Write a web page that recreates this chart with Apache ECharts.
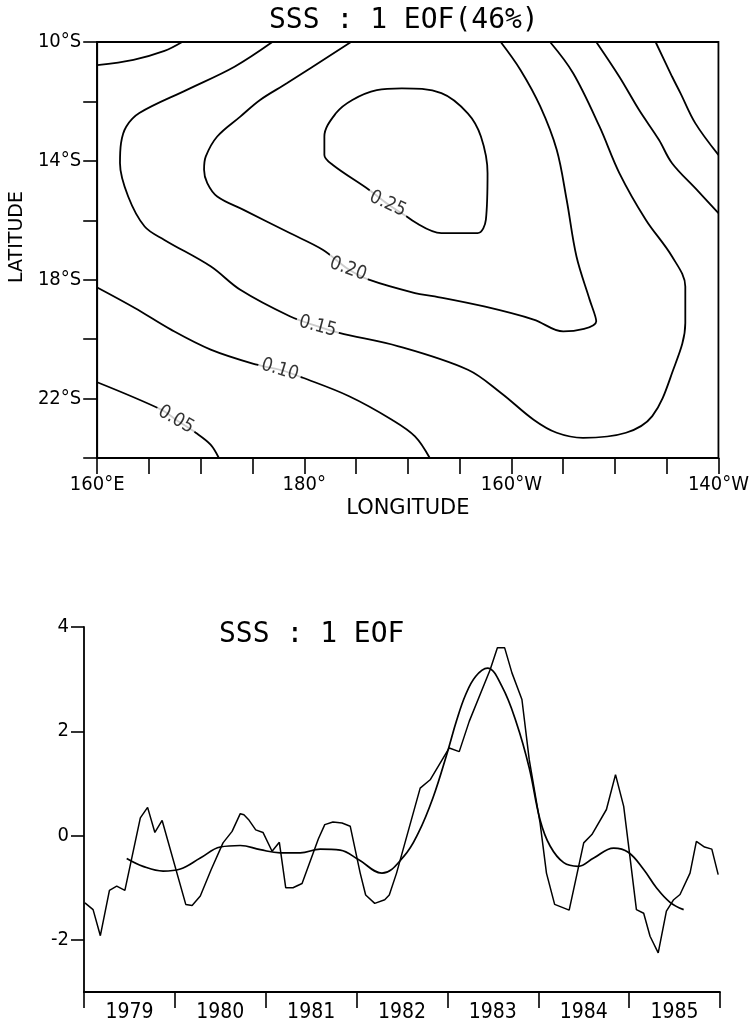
<!DOCTYPE html>
<html>
<head>
<meta charset="utf-8">
<script src="https://cdn.jsdelivr.net/npm/echarts@6/dist/echarts.min.js"></script>
<style>
html,body{margin:0;padding:0;background:#fff;}
#c{width:752px;height:1028px;}
</style>
</head>
<body>
<div id="c"></div>
<script>
// ---------- Top panel: spatial pattern (contours) ----------
const lonTicks = [160,165,170,175,180,185,190,195,200,205,210,215,220];
const lonLabelValues = [160,180,200,220];
const lonLabelText = ['160°E','180°','160°W','140°W'];
const latTicks = [-24,-22,-20,-18,-16,-14,-12,-10];
const latLabelValues = [-22,-18,-14,-10];
const latLabelText = ['22°S','18°S','14°S','10°S'];

// contour lines as [longitude (°E, 0-360), latitude]
const contour005West = [[160,-21.45],[166.18,-22.37],[167.6,-22.71],[169.52,-23.15],[170.95,-23.55],[171.75,-24]];
const contour005East = [[213.93,-10],[215.53,-11.17],[216.33,-11.72],[217.76,-12.73],[220,-13.8]];
const contour010Corner = [[160,-10.78],[163.5,-10.6],[166.5,-10.3],[168.2,-10]];
const contour010South = [[160,-18.26],[163.63,-18.95],[167.13,-19.68],[170.96,-20.35],[175.41,-20.86],[177.64,-21.03],[179.87,-21.3],[184.33,-21.92],[188.46,-22.71],[190.69,-23.27],[192.12,-24]];
const contour010East = [[208.2,-10],[210.43,-11.17],[212.34,-12.29],[214.25,-13.29],[215.52,-14.08],[217.9,-14.97],[220,-15.76]];
const contour015 = [[176.91,-10],[173.26,-10.83],[168.66,-11.61],[164.07,-12.39],[162.8,-12.85],[162.3,-13.4],[162.2,-14.08],[162.99,-15.2],[164.58,-16.21],[166.49,-16.66],[170.95,-17.55],[173.82,-18.34],[178.6,-19.23],[181.3,-19.57],[183.37,-19.79],[189.1,-20.24],[195.8,-21.03],[199,-21.81],[202.15,-22.71],[204.38,-23.15],[206.92,-23.32],[211.07,-23.15],[213.61,-22.59],[215.52,-21.14],[216.8,-19.46],[216.8,-18.23],[215.52,-17.22],[212.98,-15.98],[210.43,-14.41],[208.52,-12.85],[205.97,-11.05],[203.74,-10]];
const contour020 = [[184.51,-10],[178.31,-11.39],[175.73,-11.95],[173.82,-12.51],[171.59,-13.18],[170.48,-13.86],[170.32,-14.3],[170.63,-14.75],[171.59,-15.2],[174.14,-15.65],[178.6,-16.43],[181.78,-16.99],[184.23,-17.64],[186.24,-18.0],[190.69,-18.45],[192.6,-18.56],[197.37,-18.9],[202.15,-19.34],[205.01,-19.74],[208.2,-19.4],[207.56,-18.67],[206.29,-17.22],[205.34,-15.31],[204.38,-13.63],[202.79,-12.17],[200.88,-10.94],[198.97,-10]];
const contour025 = [[189.89,-15.87],[193.24,-16.43],[196.74,-16.43],[197.54,-15.98],[197.7,-14.41],[197.06,-13.18],[195.79,-12.4],[193.24,-11.72],[189.42,-11.56],[187.0,-11.62],[184.64,-11.95],[183.05,-12.4],[181.94,-13.18],[181.94,-13.8],[182.73,-14.13],[186.24,-14.97],[188.05,-15.45],[189.89,-15.87]];

const contourLabelText = ['0.05','0.10','0.15','0.20','0.25'];
const contourLabelPos = [[167.6,-22.71],[177.64,-21.03],[181.3,-19.57],[184.23,-17.64],[188.05,-15.45]];
const contourLabelAngle = [-30,-17,-15,-20,-25];

// ---------- Bottom panel: time series ----------
const yearTicks = [1979,1980,1981,1982,1983,1984,1985,1986];
const yearLabelValues = [1979.5,1980.5,1981.5,1982.5,1983.5,1984.5,1985.5];
const ampTicks = [-2,0,2,4];

const rawSeries = [[1979.01,-1.29],[1979.1,-1.42],[1979.18,-1.92],[1979.28,-1.05],[1979.36,-0.97],[1979.45,-1.05],[1979.62,0.34],[1979.7,0.54],[1979.78,0.06],[1979.86,0.29],[1980.12,-1.32],[1980.19,-1.34],[1980.28,-1.16],[1980.4,-0.65],[1980.53,-0.14],[1980.63,0.08],[1980.72,0.42],[1980.76,0.40],[1980.81,0.31],[1980.89,0.11],[1980.97,0.06],[1981.07,-0.3],[1981.15,-0.13],[1981.22,-1.0],[1981.3,-1.0],[1981.4,-0.92],[1981.58,-0.06],[1981.65,0.21],[1981.74,0.26],[1981.84,0.24],[1981.93,0.18],[1982.04,-0.72],[1982.1,-1.14],[1982.2,-1.3],[1982.31,-1.23],[1982.36,-1.14],[1982.44,-0.72],[1982.7,0.91],[1982.81,1.07],[1983.02,1.68],[1983.13,1.61],[1983.24,2.19],[1983.47,3.18],[1983.55,3.6],[1983.63,3.6],[1983.71,3.12],[1983.82,2.61],[1983.9,1.46],[1984.02,0.24],[1984.09,-0.72],[1984.18,-1.32],[1984.34,-1.43],[1984.5,-0.14],[1984.59,0.02],[1984.75,0.5],[1984.85,1.17],[1984.94,0.56],[1984.99,-0.14],[1985.08,-1.42],[1985.16,-1.49],[1985.23,-1.93],[1985.32,-2.25],[1985.41,-1.45],[1985.49,-1.23],[1985.56,-1.13],[1985.67,-0.72],[1985.74,-0.11],[1985.83,-0.22],[1985.91,-0.26],[1985.98,-0.75]];
const smoothSeries = [[1979.47,-0.44],[1979.65,-0.59],[1979.87,-0.68],[1980.06,-0.64],[1980.28,-0.43],[1980.5,-0.22],[1980.72,-0.19],[1980.94,-0.27],[1981.16,-0.33],[1981.38,-0.33],[1981.6,-0.26],[1981.82,-0.28],[1982.02,-0.46],[1982.28,-0.72],[1982.52,-0.4],[1982.68,0.05],[1982.84,0.72],[1983.0,1.6],[1983.1,2.2],[1983.2,2.7],[1983.31,3.05],[1983.44,3.21],[1983.6,2.86],[1983.76,2.16],[1983.9,1.3],[1984.02,0.3],[1984.13,-0.2],[1984.28,-0.52],[1984.44,-0.59],[1984.61,-0.43],[1984.83,-0.24],[1984.99,-0.32],[1985.16,-0.65],[1985.3,-1.0],[1985.45,-1.28],[1985.6,-1.42]];

// ---------- styling ----------
const INK = '#000';
const COND = '"DejaVu Sans Condensed","DejaVu Sans",sans-serif';
const SANS = '"DejaVu Sans",sans-serif';
const MONO = '"DejaVu Sans Mono",monospace';

function contourLine(data){
  return {type:'line', xAxisIndex:0, yAxisIndex:0, data:data, smooth:0.35,
    symbol:'none', silent:true, z:2, lineStyle:{color:INK, width:1.8}};
}

const chart = echarts.init(document.getElementById('c'), null, {renderer:'canvas'});
chart.setOption({
  animation:false,
  backgroundColor:'#fff',
  title:[
    {text:'SSS : 1 EOF(46%)', left:264, top:2, textStyle:{fontFamily:MONO, fontSize:28, fontWeight:'normal', color:INK}},
    {text:'SSS : 1 EOF', left:214, top:616, textStyle:{fontFamily:MONO, fontSize:28, fontWeight:'normal', color:INK}}
  ],
  grid:[
    {left:92, top:42, width:628, height:416, show:true, borderColor:INK, borderWidth:1.8, backgroundColor:'transparent'},
    {left:84, top:627, width:636, height:365}
  ],
  xAxis:[
    {type:'value', gridIndex:0, min:160, max:220, interval:5,
     axisLine:{show:true, onZero:false, lineStyle:{color:INK, width:1.8}},
     axisTick:{show:true, customValues:lonTicks, length:16, lineStyle:{color:INK, width:1.6}},
     axisLabel:{customValues:lonLabelValues, margin:17, fontFamily:COND, fontSize:20, color:INK,
       formatter:function(v){ const i = lonLabelValues.indexOf(v); return i<0 ? '' : lonLabelText[i]; }},
     splitLine:{show:false},
     name:'LONGITUDE', nameLocation:'middle', nameGap:40,
     nameTextStyle:{fontFamily:SANS, fontSize:21, color:INK}},
    {type:'value', gridIndex:1, min:1979, max:1986, interval:1,
     axisLine:{show:true, onZero:false, lineStyle:{color:INK, width:1.8}},
     axisTick:{show:true, customValues:yearTicks, length:16, lineStyle:{color:INK, width:1.6}},
     axisLabel:{customValues:yearLabelValues, margin:10, fontFamily:COND, fontSize:21, color:INK,
       formatter:function(v){ return String(Math.floor(v)); }},
     splitLine:{show:false}}
  ],
  yAxis:[
    {type:'value', gridIndex:0, min:-24, max:-10, interval:2,
     axisLine:{show:true, onZero:false, lineStyle:{color:INK, width:1.8}},
     axisTick:{show:true, customValues:latTicks, length:14, lineStyle:{color:INK, width:1.6}},
     axisLabel:{customValues:latLabelValues, margin:16, fontFamily:COND, fontSize:20, color:INK,
       formatter:function(v){ const i = latLabelValues.indexOf(v); return i<0 ? '' : latLabelText[i]; }},
     splitLine:{show:false},
     name:'LATITUDE', nameLocation:'middle', nameGap:62, nameRotate:90,
     nameTextStyle:{fontFamily:SANS, fontSize:19, color:INK, padding:[0,0,0,26]}},
    {type:'value', gridIndex:1, min:-3, max:4,
     axisLine:{show:true, onZero:false, lineStyle:{color:INK, width:1.8}},
     axisTick:{show:true, customValues:ampTicks, length:13, lineStyle:{color:INK, width:1.6}},
     axisLabel:{customValues:ampTicks, margin:15, fontFamily:COND, fontSize:20, color:INK},
     splitLine:{show:false}}
  ],
  series:[
    contourLine(contour005West),
    contourLine(contour005East),
    contourLine(contour010Corner),
    contourLine(contour010South),
    contourLine(contour010East),
    contourLine(contour015),
    contourLine(contour020),
    contourLine(contour025),
    {type:'scatter', xAxisIndex:0, yAxisIndex:0, z:5, symbolSize:1, silent:true,
     itemStyle:{color:'rgba(0,0,0,0)'},
     data: contourLabelText.map(function(t,i){
       return {name:t, value:contourLabelPos[i], label:{rotate:contourLabelAngle[i]}};
     }),
     label:{show:true, position:'inside', formatter:'{b}', fontFamily:COND, fontSize:19, color:INK,
       backgroundColor:'#fff', padding:[0,3]}},
    {type:'line', xAxisIndex:1, yAxisIndex:1, data:rawSeries, smooth:false, symbol:'none',
     lineStyle:{color:INK, width:1.5}},
    {type:'line', xAxisIndex:1, yAxisIndex:1, data:smoothSeries, smooth:0.4, symbol:'none',
     lineStyle:{color:INK, width:1.7}}
  ]
});
</script>
</body>
</html>
